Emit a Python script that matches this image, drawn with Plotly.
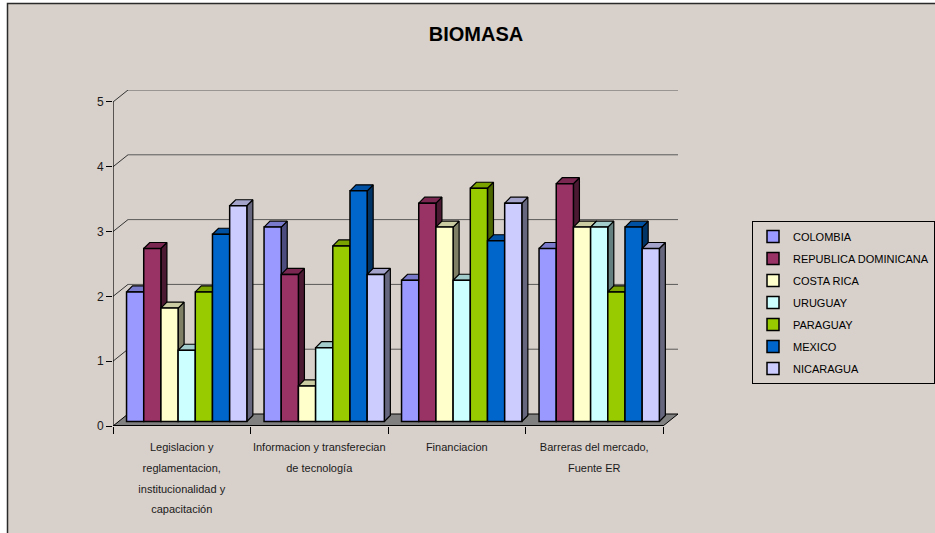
import plotly.graph_objects as go

# ---- data -------------------------------------------------------------
categories = [
    "Legislacion y<br>reglamentacion,<br>institucionalidad y<br>capacitación",
    "Informacion y transferecian<br>de tecnología",
    "Financiacion",
    "Barreras del mercado,<br>Fuente ER",
]
series_names = ["COLOMBIA", "REPUBLICA DOMINICANA", "COSTA RICA", "URUGUAY",
                "PARAGUAY", "MEXICO", "NICARAGUA"]
series_colors = ["#9999FF", "#993366", "#FFFFCC", "#CCFFFF",
                 "#99CC00", "#0066CC", "#CCCCFF"]

colombia = [2.0, 3.0, 2.18, 2.67]
republica_dominicana = [2.67, 2.27, 3.37, 3.67]
costa_rica = [1.75, 0.55, 3.0, 3.0]
uruguay = [1.1, 1.14, 2.18, 3.0]
paraguay = [2.0, 2.71, 3.6, 2.0]
mexico = [2.89, 3.56, 2.79, 3.0]
nicaragua = [3.33, 2.27, 3.37, 2.67]
series_values = [colombia, republica_dominicana, costa_rica, uruguay,
                 paraguay, mexico, nicaragua]

y_ticks = [0, 1, 2, 3, 4, 5]

# ---- 3-D look parameters (in axis units) ------------------------------
WALL_DX, WALL_DY = 0.109, 0.185      # depth of the floor / back wall
FRONT_DX, FRONT_DY = 0.036, 0.069    # where the column fronts sit in depth
BAR_DX, BAR_DY = 0.0436, 0.0925      # depth of each column
BARGAP = 0.125
N_CAT = len(categories)
X_RANGE = [0, N_CAT + WALL_DX]
Y_RANGE = [0, max(y_ticks) + WALL_DY]

FONT = "Liberation Sans, Arial, sans-serif"
BG = "#D8D0CA"

# figure pixel layout
W, H = 935, 533
L, R, T, B = 113, 257, 90, 107
PW, PH = W - L - R, H - T - B


def px_x(px):
    return (px - L) / PW


def px_y(py):
    return (H - B - py) / PH


def shade(hex_color, f):
    r, g, b = (int(hex_color[i:i + 2], 16) for i in (1, 3, 5))
    return "rgb(%d,%d,%d)" % (r * f, g * f, b * f)


fig = go.Figure()

# side and top faces of every column (drawn underneath the fronts)
n_series = len(series_names)
bar_w = (1 - BARGAP) / n_series
for s, (name, color, vals) in enumerate(zip(series_names, series_colors, series_values)):
    side_x, side_y, top_x, top_y = [], [], [], []
    for g, v in enumerate(vals):
        left = g + 0.5 + FRONT_DX - (1 - BARGAP) / 2 + s * bar_w
        right = left + bar_w
        b0 = FRONT_DY
        t0 = b0 + v
        side_x += [right, right + BAR_DX, right + BAR_DX, right, right, None]
        side_y += [b0, b0 + BAR_DY, t0 + BAR_DY, t0, b0, None]
        top_x += [left, right, right + BAR_DX, left + BAR_DX, left, None]
        top_y += [t0, t0, t0 + BAR_DY, t0 + BAR_DY, t0, None]
    fig.add_trace(go.Scatter(x=side_x, y=side_y, mode="lines", fill="toself",
                             fillcolor=shade(color, 0.5),
                             line=dict(color="black", width=1.2),
                             showlegend=False, hoverinfo="skip"))
    fig.add_trace(go.Scatter(x=top_x, y=top_y, mode="lines", fill="toself",
                             fillcolor=shade(color, 0.8),
                             line=dict(color="black", width=1.2),
                             showlegend=False, hoverinfo="skip"))

# column fronts on an overlaid subplot so they sit above the depth faces
cat_pos = [g + 0.5 + FRONT_DX for g in range(N_CAT)]
for name, color, vals in zip(series_names, series_colors, series_values):
    fig.add_trace(go.Bar(x=cat_pos, y=vals, base=FRONT_DY, name=name,
                         legendgroup=name,
                         marker=dict(color=color, line=dict(color="black", width=1.5)),
                         xaxis="x2", yaxis="y2"))

shapes = []
# chart frame
shapes.append(dict(type="rect", xref="paper", yref="paper", layer="below",
                   x0=px_x(7.5), x1=px_x(W + 20), y0=px_y(H + 20), y1=px_y(3.5),
                   fillcolor=BG, line=dict(color="#2a2a2a", width=1.5)))
# floor
shapes.append(dict(type="path", xref="x", yref="y", layer="below",
                   path="M0,0 L%f,0 L%f,%f L%f,%f Z" % (N_CAT, N_CAT + WALL_DX, WALL_DY,
                                                       WALL_DX, WALL_DY),
                   fillcolor="#808080", line=dict(color="black", width=1)))
# back-wall gridlines with their diagonal lead-ins
for v in y_ticks[1:]:
    shapes.append(dict(type="line", xref="x", yref="y", layer="below",
                       x0=0, y0=v, x1=WALL_DX, y1=v + WALL_DY,
                       line=dict(color="#333333", width=1)))
    shapes.append(dict(type="line", xref="x", yref="y", layer="below",
                       x0=WALL_DX, y0=v + WALL_DY, x1=N_CAT + WALL_DX, y1=v + WALL_DY,
                       line=dict(color="#5a5a5a", width=1)))
# front axis lines
shapes.append(dict(type="line", xref="x", yref="y", layer="below",
                   x0=0, y0=0, x1=0, y1=max(y_ticks), line=dict(color="black", width=1.2)))
shapes.append(dict(type="line", xref="x", yref="y", layer="below",
                   x0=0, y0=0, x1=N_CAT, y1=0, line=dict(color="black", width=2)))

label_text = ["<br>".join("<span style='font-size:11px'>%s</span>" % part
                          for part in c.split("<br>")) for c in categories]

fig.update_layout(
    width=W, height=H,
    margin=dict(l=L, r=R, t=T, b=B, pad=0),
    paper_bgcolor="white",
    plot_bgcolor="rgba(0,0,0,0)",
    barmode="group", bargap=BARGAP, bargroupgap=0,
    shapes=shapes,
    title=dict(text="<b>BIOMASA</b>", x=476 / W, y=1 - 33.5 / H,
               xanchor="center", yanchor="middle",
               font=dict(family=FONT, size=20, color="black")),
    font=dict(family=FONT, color="#1a1a1a"),
    xaxis=dict(range=X_RANGE, tickvals=[g + 0.5 for g in range(N_CAT)],
               ticktext=label_text, ticks="", tickangle=0, ticklabelstandoff=8,
               showgrid=False, zeroline=False, showline=False,
               tickfont=dict(family=FONT, size=16, color="#1a1a1a")),
    xaxis2=dict(range=X_RANGE, overlaying="x", anchor="y2", side="bottom",
                tickvals=list(range(N_CAT + 1)), ticks="outside", ticklen=7,
                tickcolor="black", tickwidth=1, showticklabels=False,
                showgrid=False, zeroline=False, showline=False),
    yaxis=dict(range=Y_RANGE, tickvals=y_ticks, ticks="outside", ticklen=6,
               tickcolor="black", tickwidth=1, showgrid=False, zeroline=False,
               showline=False, tickfont=dict(family=FONT, size=12, color="#1a1a1a")),
    yaxis2=dict(range=Y_RANGE, overlaying="y", visible=False),
    legend=dict(xref="container", yref="container", x=752 / W, y=1 - 221 / H,
                xanchor="left", yanchor="top", tracegroupgap=3,
                bgcolor="rgba(0,0,0,0)", bordercolor="black", borderwidth=1,
                font=dict(family=FONT, size=11, color="black")),
    showlegend=True,
)

fig.write_html("out.html", config={"displayModeBar": False})
